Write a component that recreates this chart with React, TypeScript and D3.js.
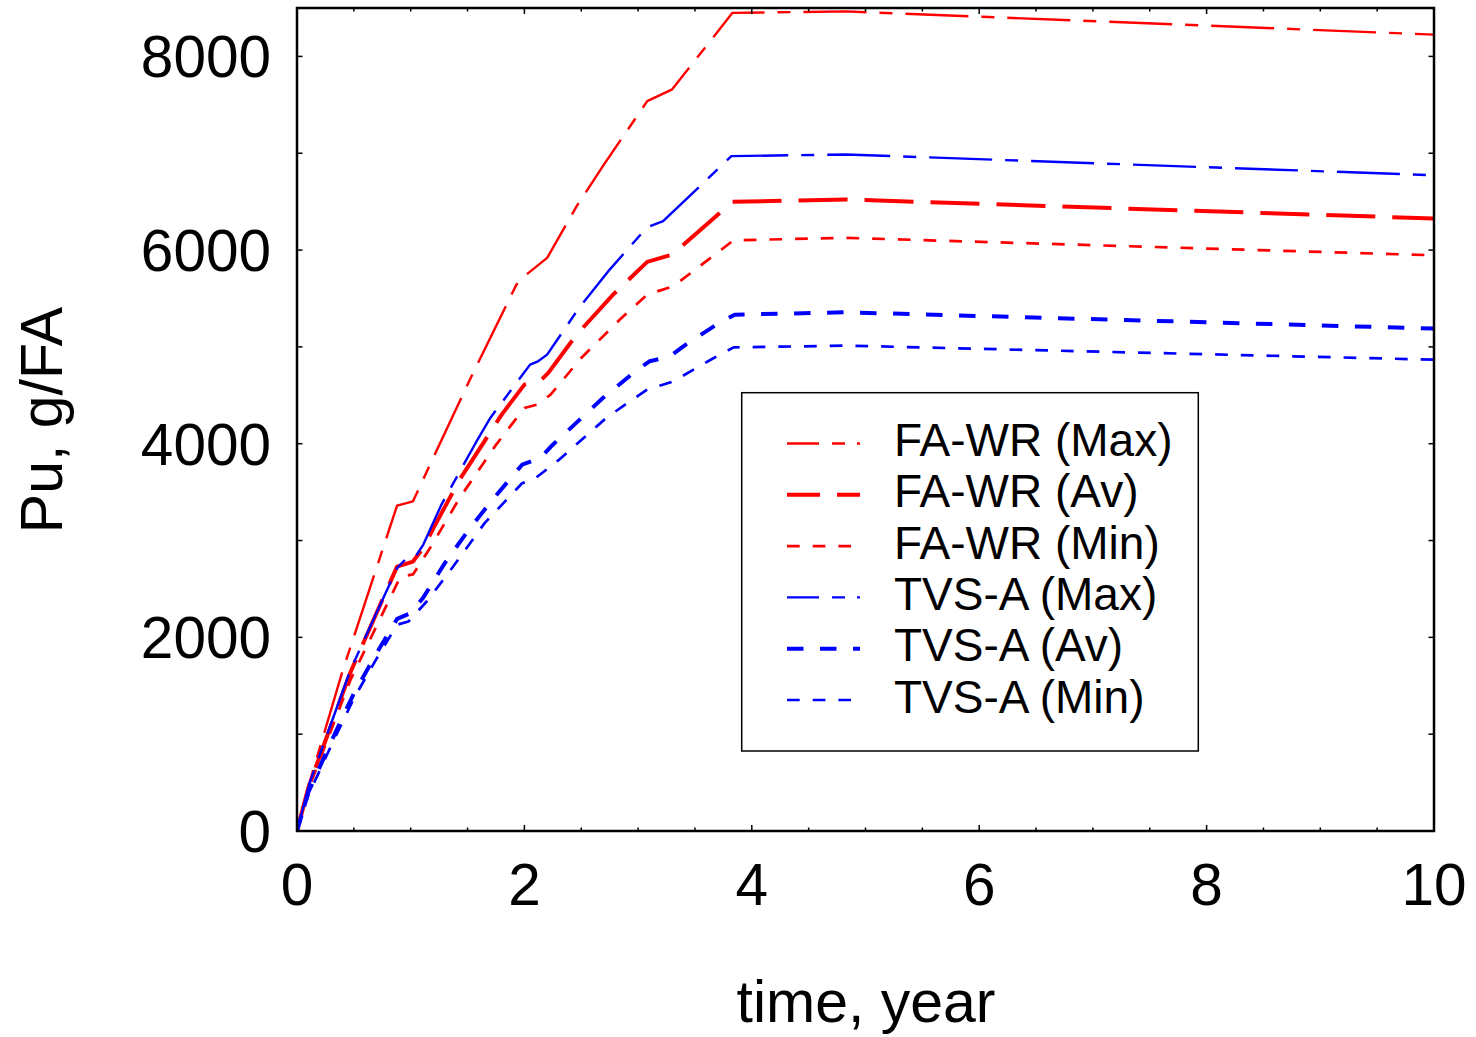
import React from "react";
import * as d3 from "d3";

type Pt = [number, number];

// time (year), Pu (g/FA)
const faWrMax: Pt[] = [[0,0],[0.1,460],[0.4,1650],[0.88,3360],[1.02,3405],[1.17,3783],[1.52,4661],[1.93,5643],[2.0,5730],[2.2,5919],[2.46,6453],[2.69,6866],[3.08,7538],[3.3,7660],[3.83,8450],[4.83,8465],[10,8225]];
const faWrAv: Pt[] = [[0,0],[0.1,450],[0.47,1640],[0.88,2731],[1.02,2783],[1.11,2922],[1.2,3129],[1.43,3628],[1.8,4300],[2.0,4610],[2.15,4661],[2.21,4731],[2.46,5127],[2.78,5540],[3.08,5878],[3.3,5953],[3.83,6498],[4.83,6522],[10,6326]];
const faWrMin: Pt[] = [[0,0],[0.1,430],[0.47,1560],[0.91,2628],[1.02,2650],[1.17,2922],[1.43,3439],[1.74,3972],[2.0,4369],[2.11,4403],[2.23,4506],[2.5,4886],[2.84,5282],[3.08,5540],[3.31,5626],[3.84,6101],[4.83,6126],[10,5946]];
const tvsAMax: Pt[] = [[0,0],[0.11,493],[0.47,1664],[0.88,2715],[0.95,2801],[1.04,2830],[1.11,2956],[1.27,3370],[1.57,4005],[1.7,4266],[2.05,4817],[2.12,4851],[2.2,4920],[2.47,5385],[2.75,5798],[3.08,6236],[3.22,6298],[3.82,6970],[4.83,6987],[10,6773]];
const tvsAAv: Pt[] = [[0,0],[0.1,400],[0.3,923],[0.5,1420],[0.7,1837],[0.88,2190],[1.0,2250],[1.11,2410],[1.3,2767],[1.51,3111],[1.73,3437],[1.98,3783],[2.14,3852],[2.25,3990],[2.69,4472],[3.0,4770],[3.1,4851],[3.28,4902],[3.41,5016],[3.69,5230],[3.85,5333],[4.83,5357],[10,5189]];
const tvsAMin: Pt[] = [[0,0],[0.1,370],[0.3,880],[0.5,1370],[0.7,1780],[0.88,2130],[0.98,2163],[1.14,2370],[1.32,2646],[1.48,2904],[1.65,3180],[1.98,3592],[2.08,3628],[2.3,3830],[2.72,4266],[2.97,4472],[3.08,4558],[3.31,4644],[3.65,4875],[3.84,4995],[4.83,5013],[10,4868]];

const seriesNames = ["FA-WR (Max)", "FA-WR (Av)", "FA-WR (Min)", "TVS-A (Max)", "TVS-A (Av)", "TVS-A (Min)"];
const seriesData = [faWrMax, faWrAv, faWrMin, tvsAMax, tvsAAv, tvsAMin];

const xTickLabels = [0, 2, 4, 6, 8, 10];
const yTickLabels = [0, 2000, 4000, 6000, 8000];

const styles = [
  { color: "#ff0000", width: 2.4, dash: "63,13,13,13", legendDash: "32,13,13,12,3,40" },
  { color: "#ff0000", width: 4, dash: "49,17", legendDash: "33,17" },
  { color: "#ff0000", width: 2.7, dash: "12.7,13", legendDash: "12.7,13" },
  { color: "#0000ff", width: 2.4, dash: "63,13,13,13", legendDash: "32,13,13,12,3,40" },
  { color: "#0000ff", width: 4, dash: "16.5,16.5", legendDash: "16.5,16.5" },
  { color: "#0000ff", width: 2.7, dash: "12.7,13", legendDash: "12.7,13" },
];

const W = 1476, H = 1037;
const L = 297, R = 1434, T = 8, B = 831;
const FONT = "'Liberation Sans', Arial, Helvetica, sans-serif";

export default function App() {
  const x = d3.scaleLinear().domain([0, 10]).range([L, R]);
  const y = d3.scaleLinear().domain([0, 8500]).range([B, T]);
  const line = d3.line<Pt>().x(d => x(d[0])).y(d => y(d[1]));

  const xMinor = d3.range(0, 10.001, 0.5);
  const yMinor = d3.range(0, 8001, 1000);

  const legX = 741.7, legY = 392.7, legW = 456.6, legH = 358.3;
  const rowY0 = 443.5, rowStep = 51.3;

  return (
    <div style={{ position: "absolute", left: 0, top: 0 }}>
      <svg width={W} height={H} style={{ display: "block", background: "#fff" }}>
        <rect x={0} y={0} width={W} height={H} fill="#fff" />
        <defs>
          <clipPath id="plotclip">
            <rect x={L} y={T} width={R - L} height={B - T} />
          </clipPath>
        </defs>
        <g clipPath="url(#plotclip)">
          {seriesData.map((d, i) => (
            <path key={i} d={line(d) || ""} fill="none" stroke={styles[i].color}
              strokeWidth={styles[i].width} strokeDasharray={styles[i].dash}
              strokeLinejoin="round" />
          ))}
        </g>
        {/* ticks */}
        {xMinor.map((t, i) => {
          const major = Math.abs(t / 2 - Math.round(t / 2)) < 1e-6;
          const len = major ? 6 : 3.5;
          return (
            <g key={"xt" + i}>
              <line x1={x(t)} x2={x(t)} y1={B} y2={B - len} stroke="#000" strokeWidth={1.5} />
              <line x1={x(t)} x2={x(t)} y1={T} y2={T + len} stroke="#000" strokeWidth={1.5} />
            </g>
          );
        })}
        {yMinor.map((v, i) => (
          <g key={"yt" + i}>
            <line x1={L} x2={L + 5.5} y1={y(v)} y2={y(v)} stroke="#000" strokeWidth={1.5} />
            <line x1={R} x2={R - 5.5} y1={y(v)} y2={y(v)} stroke="#000" strokeWidth={1.5} />
          </g>
        ))}
        <rect x={L} y={T} width={R - L} height={B - T} fill="none" stroke="#000" strokeWidth={2.5} />
        {/* tick labels */}
        {xTickLabels.map(t => (
          <text key={"xl" + t} x={x(t)} y={905} textAnchor="middle" fontFamily={FONT} fontSize={58.5} fill="#000">{t}</text>
        ))}
        {yTickLabels.map(v => (
          <text key={"yl" + v} x={271} y={y(v)} dy="0.36em" textAnchor="end" fontFamily={FONT} fontSize={58.5} fill="#000">{v}</text>
        ))}
        <text x={866} y={1022} textAnchor="middle" fontFamily={FONT} fontSize={59} fill="#000">time, year</text>
        <text transform={`translate(62,420) rotate(-90)`} textAnchor="middle" fontFamily={FONT} fontSize={59} fill="#000">Pu, g/FA</text>
        {/* legend */}
        <rect x={legX} y={legY} width={legW} height={legH} fill="#fff" stroke="#000" strokeWidth={1.5} />
        {seriesNames.map((n, i) => {
          const ry = rowY0 + i * rowStep;
          const end = i === 2 || i === 5 ? 851 : 860;
          return (
            <g key={"lg" + i}>
              <line x1={787} x2={end} y1={ry} y2={ry} stroke={styles[i].color} strokeWidth={styles[i].width}
                strokeDasharray={styles[i].legendDash} />
              <text x={894} y={ry + 12.5} fontFamily={FONT} fontSize={46} fill="#000">{n}</text>
            </g>
          );
        })}
      </svg>
    </div>
  );
}
